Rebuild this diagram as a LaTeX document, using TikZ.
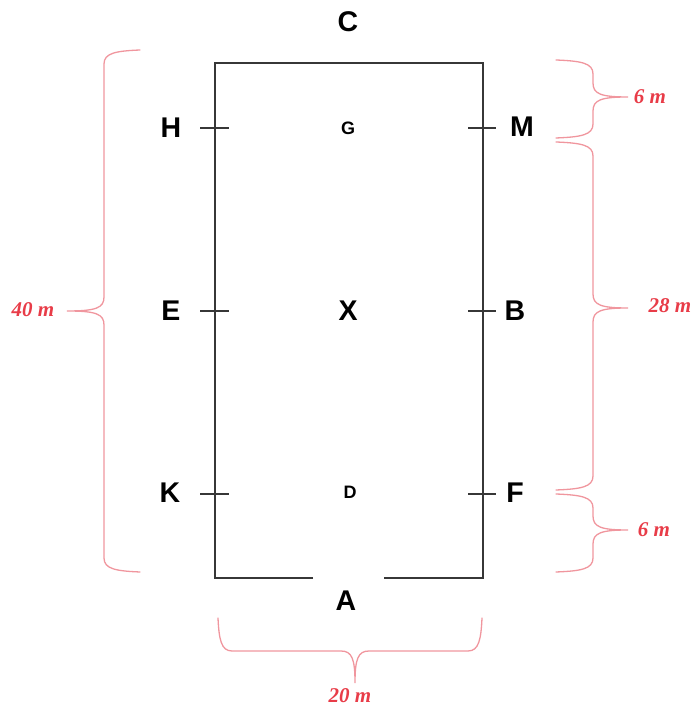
\documentclass[tikz,border=0pt]{standalone}
\usepackage{fontspec}
\setmainfont{Liberation Sans}
\newfontfamily\dimfont{Liberation Serif}
\definecolor{bracered}{RGB}{240,150,158}
\definecolor{dimred}{RGB}{232,60,72}
\definecolor{wall}{RGB}{55,55,55}
\tikzset{
  wallline/.style={draw=wall,line width=1.8pt},
  tickline/.style={draw=wall,line width=1.4pt},
  letter/.style={font=\fontsize{28.5}{30}\selectfont\bfseries,text=black,inner sep=0pt},
  smallletter/.style={font=\fontsize{18}{20}\selectfont\bfseries,text=black,inner sep=0pt},
  dimlabel/.style={font=\dimfont\fontsize{21}{23}\selectfont\itshape\bfseries,text=dimred,inner sep=0pt},
  bracestyle/.style={draw=bracered,line width=1.3pt,line cap=round}
}
% vertical brace: end x, vertical x, tip x, top y, bottom y, tip y
\newcommand\mybracev[6]{%
  \pgfmathsetmacro\bsg{sign(#3-#2)}%
  \draw[bracestyle] (#1,#4) .. controls ({#2-\bsg*12},{#4-1}) and (#2,{#4-3}) .. (#2,{#4-14})
    -- (#2,{#6+14}) .. controls (#2,{#6+3}) and ({#2+\bsg*8},#6) .. (#3,#6)
    .. controls ({#2+\bsg*8},#6) and (#2,{#6-3}) .. (#2,{#6-14})
    -- (#2,{#5+14}) .. controls (#2,{#5+3}) and ({#2-\bsg*12},{#5+1}) .. (#1,#5);}
% horizontal brace pointing down: end y, line y, tip y, left x, right x, tip x
\newcommand\mybraceh[6]{%
  \draw[bracestyle] (#4,#1) .. controls ({#4+1},{#2+12}) and ({#4+3},#2) .. ({#4+14},#2)
    -- ({#6-14},#2) .. controls ({#6-3},#2) and (#6,{#2-8}) .. (#6,#3)
    .. controls (#6,{#2-8}) and ({#6+3},#2) .. ({#6+14},#2)
    -- ({#5-14},#2) .. controls ({#5-3},#2) and ({#5-1},{#2+12}) .. (#5,#1);}
\begin{document}
\begin{tikzpicture}[x=1pt,y=1pt]
\useasboundingbox (0,0) rectangle (695,708);
% corners and gate
\coordinate (tl) at (215,645);
\coordinate (tr) at (483,645);
\coordinate (br) at (483,130);
\coordinate (bl) at (215,130);
\coordinate (gl) at (313,130);
\coordinate (gr) at (384,130);
\draw[wallline] (gl) -- (bl) -- (tl) -- (tr) -- (br) -- (gr);
% ticks
\coordinate (hl) at (200,580); \coordinate (hr) at (229,580);
\coordinate (el) at (200,397); \coordinate (er) at (229,397);
\coordinate (kl) at (200,214); \coordinate (kr) at (229,214);
\coordinate (ml) at (468,580); \coordinate (mr) at (496,580);
\coordinate (bbl) at (468,397); \coordinate (bbr) at (496,397);
\coordinate (fl) at (468,214); \coordinate (fr) at (496,214);
\draw[tickline] (hl) -- (hr);
\draw[tickline] (el) -- (er);
\draw[tickline] (kl) -- (kr);
\draw[tickline] (ml) -- (mr);
\draw[tickline] (bbl) -- (bbr);
\draw[tickline] (fl) -- (fr);
% letters
\node[letter] (C) at (348,686) {C};
\node[letter] (A) at (346,107) {A};
\node[letter] (H) at (171,580) {H};
\node[letter] (E) at (171,397) {E};
\node[letter] (K) at (170,215) {K};
\node[letter] (M) at (522,581) {M};
\node[letter] (B) at (515,397) {B};
\node[letter] (F) at (515,215) {F};
\node[letter] (X) at (348,397) {X};
\node[smallletter] (G) at (348,580) {G};
\node[smallletter] (D) at (350,216) {D};
% braces
\mybracev{140}{104}{67}{658}{136}{397}
\mybracev{556}{593}{628}{648}{570}{611}
\mybracev{556}{593}{628}{566}{218}{400}
\mybracev{556}{593}{628}{214}{136}{178}
\mybraceh{90}{57}{25}{218}{482}{355}
% dimension labels
\node[dimlabel] (d40) at (33,398) {40 m};
\node[dimlabel] (d6a) at (650,611) {6 m};
\node[dimlabel] (d28) at (670,402) {28 m};
\node[dimlabel] (d6b) at (654,178) {6 m};
\node[dimlabel] (d20) at (350,12) {20 m};
\end{tikzpicture}
\end{document}
